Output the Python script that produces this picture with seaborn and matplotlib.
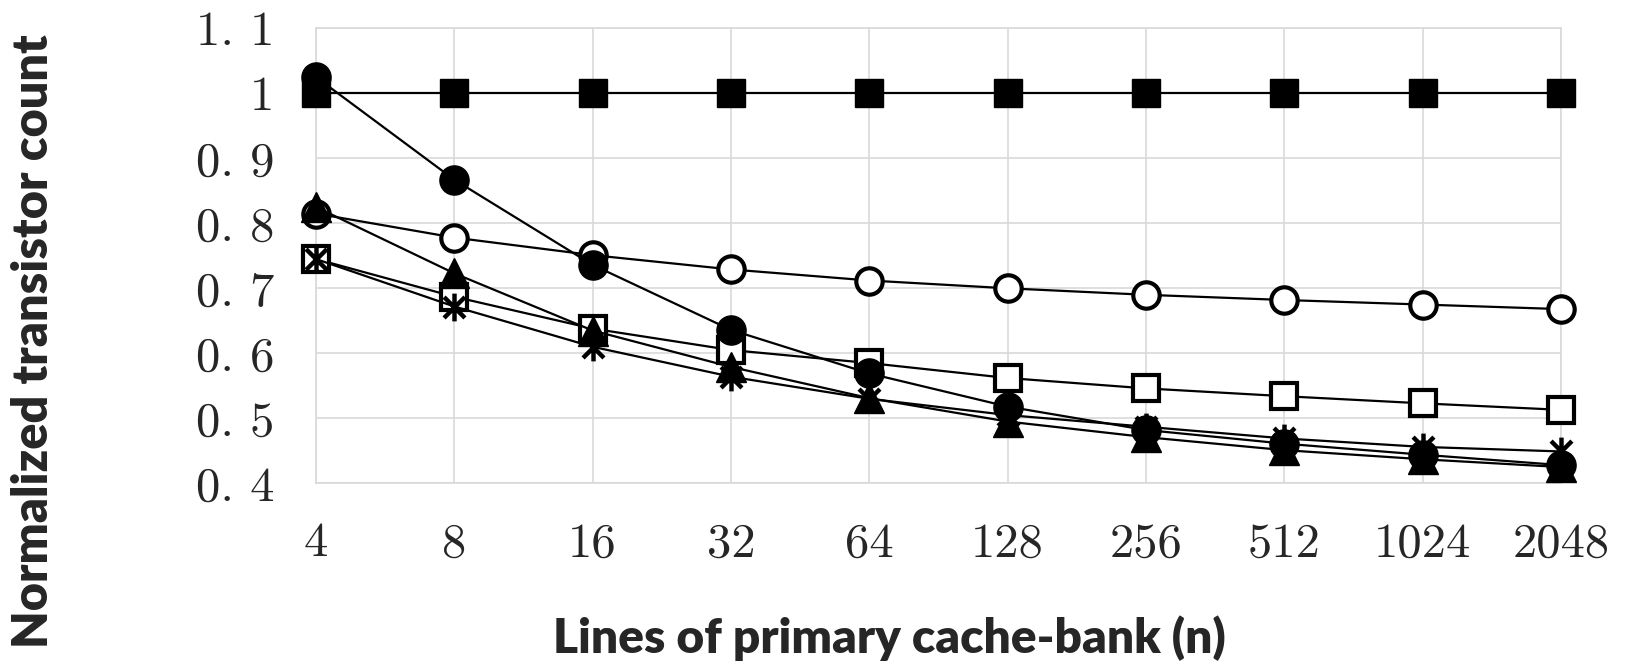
import numpy as np
import pandas as pd
import matplotlib
matplotlib.use("Agg")
import matplotlib.pyplot as plt
from matplotlib.path import Path
from matplotlib.ticker import FixedLocator, FixedFormatter
import seaborn as sns

# ---------------- data ----------------
categories = ["4", "8", "16", "32", "64", "128", "256", "512", "1024", "2048"]

open_circle   = [0.815, 0.778, 0.751, 0.729, 0.712, 0.700, 0.690, 0.682, 0.675, 0.668]
open_square   = [0.745, 0.687, 0.638, 0.605, 0.585, 0.562, 0.546, 0.534, 0.523, 0.513]
triangle      = [0.825, 0.723, 0.635, 0.579, 0.531, 0.495, 0.471, 0.451, 0.437, 0.425]
star          = [0.745, 0.672, 0.610, 0.564, 0.530, 0.505, 0.487, 0.469, 0.456, 0.449]
filled_circle = [1.025, 0.867, 0.736, 0.636, 0.569, 0.518, 0.482, 0.461, 0.444, 0.428]
filled_square = [1.0, 1.0, 1.0, 1.0, 1.0, 1.0, 1.0, 1.0, 1.0, 1.0]

y_ticks = [0.4, 0.5, 0.6, 0.7, 0.8, 0.9, 1.0, 1.1]
y_tick_labels = ["0. 4", "0. 5", "0. 6", "0. 7", "0. 8", "0. 9", "1", "1. 1"]

x_label = "Lines of primary cache-bank (n)"
y_label = "Normalized transistor count"

# ---------------- style ----------------
sns.set_theme(style="white")
plt.rcParams["font.family"] = ["Lato", "DejaVu Sans"]

star_path = Path(
    [(0, -1), (0, 1), (-0.75, -0.75), (0.75, 0.75), (-0.75, 0.75), (0.75, -0.75)],
    [Path.MOVETO, Path.LINETO, Path.MOVETO, Path.LINETO, Path.MOVETO, Path.LINETO],
)

W, H = 1627, 668
fig = plt.figure(figsize=(W / 100, H / 100), dpi=100)
L, R, T, B = 316, 1561, 28.3, 483.3
ax = fig.add_axes([L / W, 1 - B / H, (R - L) / W, (B - T) / H])

series = [
    ("open circle", open_circle, dict(marker="o", markerfacecolor="white", markeredgecolor="black",
                                      markeredgewidth=3.0, markersize=19)),
    ("open square", open_square, dict(marker="s", markerfacecolor="white", markeredgecolor="black",
                                      markeredgewidth=3.0, markersize=18.5)),
    ("triangle", triangle, dict(marker="^", markerfacecolor="black", markeredgecolor="black",
                                markeredgewidth=1.0, markersize=21)),
    ("star", star, dict(marker=star_path, markerfacecolor="none", markeredgecolor="black",
                        markeredgewidth=3.2, markersize=20)),
    ("filled circle", filled_circle, dict(marker="o", markerfacecolor="black", markeredgecolor="black",
                                          markeredgewidth=1.0, markersize=21)),
    ("filled square", filled_square, dict(marker="s", markerfacecolor="black", markeredgecolor="black",
                                          markeredgewidth=1.0, markersize=20.5)),
]

for name, vals, mk in series:
    df = pd.DataFrame({"n": categories, "value": vals})
    sns.lineplot(data=df, x="n", y="value", ax=ax, color="black", linewidth=1.6,
                 sort=False, clip_on=False, zorder=3, **mk)

ax.set_xlim(0, len(categories) - 1)
ax.set_ylim(y_ticks[0], y_ticks[-1])
ax.yaxis.set_major_locator(FixedLocator(y_ticks))
ax.yaxis.set_major_formatter(FixedFormatter(y_tick_labels))
ax.set_xticks(range(len(categories)))
ax.set_xticklabels(categories)

grid_color = "#d9d9d9"
ax.grid(True, color=grid_color, linewidth=1.2, zorder=0)
ax.set_axisbelow(True)
for s in ax.spines.values():
    s.set_color(grid_color)
    s.set_linewidth(1.2)

for lab in ax.get_xticklabels() + ax.get_yticklabels():
    lab.set_fontfamily("cmr10")
    lab.set_fontsize(35)
ax.tick_params(axis="both", length=0)
ax.tick_params(axis="y", pad=30)
ax.tick_params(axis="x", pad=28)

ax.set_xlabel(x_label, fontsize=34.5, fontweight="heavy", ha="center", va="baseline")
ax.xaxis.set_label_coords((889 - L) / (R - L), (B - 653) / (B - T))
ax.set_ylabel(y_label, fontsize=35, fontweight="heavy", rotation=90, ha="center", va="baseline")
ax.yaxis.set_label_coords((48 - L) / (R - L), (B - 341) / (B - T))

fig.savefig("out.png", dpi=100)
